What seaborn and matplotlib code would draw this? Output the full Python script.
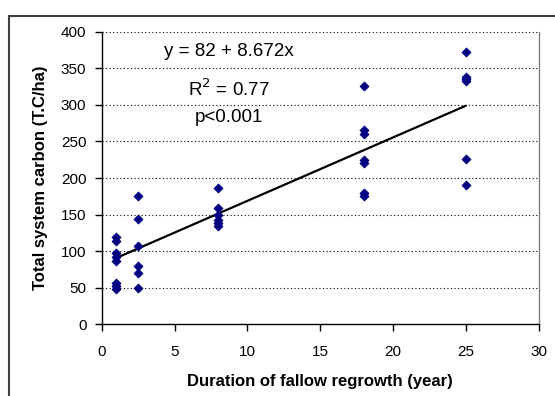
import matplotlib
matplotlib.use("Agg")
import matplotlib.pyplot as plt
from matplotlib.lines import Line2D
import seaborn as sns
import pandas as pd
import numpy as np

# fallow duration (years) and total system carbon (T.C/ha)
years = [1, 1, 1, 1, 1, 1, 1, 1,
         2.5, 2.5, 2.5, 2.5, 2.5, 2.5,
         8, 8, 8, 8, 8, 8,
         18, 18, 18, 18, 18, 18, 18,
         25, 25, 25, 25, 25, 25]
carbon = [120, 114, 97, 92, 86, 56, 52, 48,
          175, 144, 107, 80, 70, 50,
          186, 159, 150, 142, 138, 134,
          326, 265, 260, 225, 220, 180, 175,
          372, 338, 335, 332, 226, 190]

intercept = 82
slope = 8.672
fit_lines = ["y = 82 + 8.672x", "R$^2$ = 0.77", "p<0.001"]

x_ticks = [0, 5, 10, 15, 20, 25, 30]
y_ticks = [0, 50, 100, 150, 200, 250, 300, 350, 400]

df = pd.DataFrame({"year": years, "carbon": carbon})
fit_x = np.array([min(years), max(years)])
fit = pd.DataFrame({"year": fit_x, "carbon": intercept + slope * fit_x})

sns.set_style("white")
plt.rcParams["font.family"] = ["Liberation Sans", "DejaVu Sans"]
plt.rcParams["text.color"] = "black"
plt.rcParams["axes.labelcolor"] = "black"
plt.rcParams["xtick.color"] = "black"
plt.rcParams["ytick.color"] = "black"

fig = plt.figure(figsize=(5.55, 3.96), dpi=100)
ax = fig.add_axes([0.1832, 0.181, 0.9706 - 0.1832, 0.92 - 0.181])

ax.set_axisbelow(True)
for v in y_ticks[1:]:
    ax.axhline(v, color="black", lw=0.8, ls=(0, (1, 2.2)), zorder=0)

sns.lineplot(data=fit, x="year", y="carbon", color="black", lw=1.6, ax=ax, zorder=2)
sns.scatterplot(data=df, x="year", y="carbon", marker="D", s=20, color="#000080",
                edgecolor="#000080", linewidth=0.7, ax=ax, zorder=3)

ax.set_xlim(0, 30)
ax.set_ylim(0, 400)
ax.set_xticks(x_ticks)
ax.set_yticks(y_ticks)
ax.tick_params(axis="both", direction="out", length=5, width=1, color="black",
               labelcolor="black", labelsize=11, bottom=True, left=True)
ax.tick_params(axis="x", pad=10)
ax.tick_params(axis="y", pad=6)

ax.spines["top"].set_visible(False)
ax.spines["right"].set_color("#808080")
ax.spines["right"].set_linewidth(1)
ax.spines["left"].set_color("black")
ax.spines["bottom"].set_color("black")
ax.spines["left"].set_linewidth(1)
ax.spines["bottom"].set_linewidth(1)

ax.set_xlabel("Duration of fallow regrowth (year)", fontsize=12, fontweight="bold", labelpad=11)
ax.set_ylabel("Total system carbon (T.C/ha)", fontsize=12, fontweight="bold", labelpad=9)

for txt, yv in zip(fit_lines, [367, 312, 277]):
    ax.text(8.72, yv, txt, ha="center", va="baseline", fontsize=13.5)

# outer chart border (cropped at right and bottom)
fig.add_artist(Line2D([9 / 555, 9 / 555], [-0.1, 1 - 16 / 396], color="#404040", lw=1.5,
                      transform=fig.transFigure))
fig.add_artist(Line2D([9 / 555, 1.1], [1 - 16 / 396, 1 - 16 / 396], color="#404040", lw=1.5,
                      transform=fig.transFigure))

fig.savefig("out.png", dpi=100)
